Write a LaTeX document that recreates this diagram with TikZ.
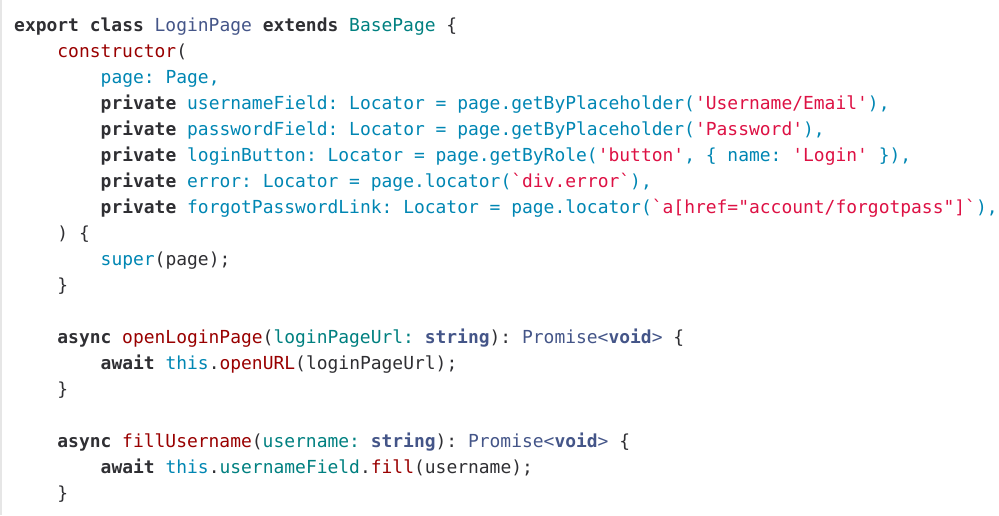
\documentclass[tikz,border=0pt]{standalone}
\usepackage{fontspec}
\usepackage{xcolor}
\newfontfamily\codefont{DejaVu Sans Mono}

\definecolor{kwgray}{HTML}{2F2F33}
\definecolor{clsblue}{HTML}{445588}
\definecolor{tealcol}{HTML}{008080}
\definecolor{fnred}{HTML}{990000}
\definecolor{varblue}{HTML}{0086B3}
\definecolor{strred}{HTML}{DD1144}
\definecolor{edgegray}{HTML}{E6E6E6}

\newcommand{\ckw}[1]{\textcolor{kwgray}{\bfseries #1}}
\newcommand{\ccls}[1]{\textcolor{clsblue}{#1}}
\newcommand{\cclsb}[1]{\textcolor{clsblue}{\bfseries #1}}
\newcommand{\cteal}[1]{\textcolor{tealcol}{#1}}
\newcommand{\cfn}[1]{\textcolor{fnred}{#1}}
\newcommand{\cblue}[1]{\textcolor{varblue}{#1}}
\newcommand{\cstr}[1]{\textcolor{strred}{#1}}

\begin{document}
\begin{tikzpicture}[x=1pt,y=-1pt,
  codeline/.style={anchor=base west,inner sep=0pt,text=kwgray,
    font=\codefont\fontsize{17.95}{26}\selectfont\frenchspacing}]
\useasboundingbox (0,0) rectangle (999,515); % --- page size
\draw[edgegray,line width=1.5pt] (0.75,0) -- (0.75,515); % left rule

% --- class header and constructor
\node[codeline] (l1) at (14,31) {\ckw{export class} \ccls{LoginPage} \ckw{extends} \cteal{BasePage} \{};
\node[codeline] (l2) at (57.2,57) {\cfn{constructor}(};
\node[codeline] (l3) at (100.5,83) {\cblue{page: Page,}};
\node[codeline] (l4) at (100.5,109) {\ckw{private} \cblue{usernameField: Locator = page.getByPlaceholder(}\cstr{'Username/Email'}\cblue{),}};
\node[codeline] (l5) at (100.5,135) {\ckw{private} \cblue{passwordField: Locator = page.getByPlaceholder(}\cstr{'Password'}\cblue{),}};
\node[codeline] (l6) at (100.5,161) {\ckw{private} \cblue{loginButton: Locator = page.getByRole(}\cstr{'button'}\cblue{, \{ name:} \cstr{'Login'} \cblue{\}),}};
\node[codeline] (l7) at (100.5,187) {\ckw{private} \cblue{error: Locator = page.locator(}\cstr{`div.error`}\cblue{),}};
\node[codeline] (l8) at (100.5,213) {\ckw{private} \cblue{forgotPasswordLink: Locator = page.locator(}\cstr{`a[href="account/forgotpass"]`}\cblue{),}};
\node[codeline] (l9) at (57.2,239) {) \{};
\node[codeline] (l10) at (100.5,265) {\cblue{super}(page);};
\node[codeline] (l11) at (57.2,291) {\}};

% --- openLoginPage method
\node[codeline] (l13) at (57.2,343) {\ckw{async} \cfn{openLoginPage}(\cteal{loginPageUrl:} \cclsb{string}): \ccls{Promise<}\cclsb{void}\ccls{>} \{};
\node[codeline] (l14) at (100.5,369) {\ckw{await} \cblue{this}.\cfn{openURL}(loginPageUrl);};
\node[codeline] (l15) at (57.2,395) {\}};

% --- fillUsername method
\node[codeline] (l17) at (57.2,447) {\ckw{async} \cfn{fillUsername}(\cteal{username:} \cclsb{string}): \ccls{Promise<}\cclsb{void}\ccls{>} \{};
\node[codeline] (l18) at (100.5,473) {\ckw{await} \cblue{this}.\cteal{usernameField}.\cfn{fill}(username);};
\node[codeline] (l19) at (57.2,499) {\}};
\end{tikzpicture}
\end{document}
